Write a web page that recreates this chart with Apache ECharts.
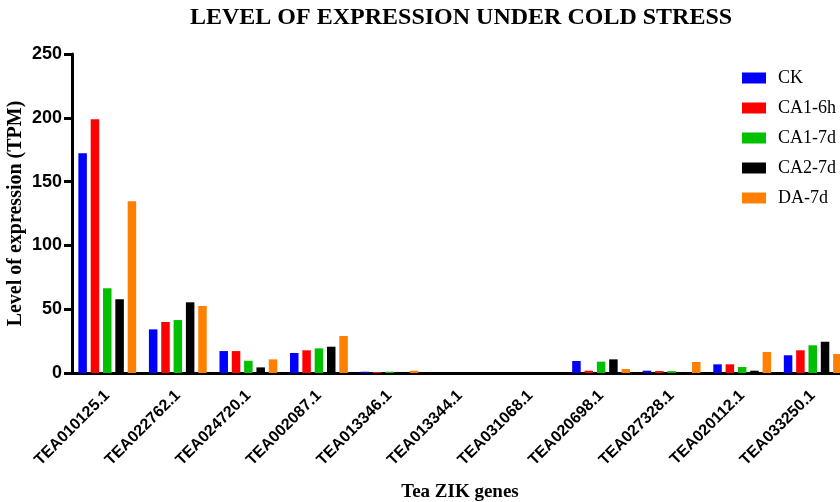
<!DOCTYPE html>
<html>
<head>
<meta charset="utf-8">
<script src="https://cdn.jsdelivr.net/npm/echarts@6/dist/echarts.min.js"></script>
<style>
html,body{margin:0;padding:0;background:#fff;}
#chart{width:840px;height:502px;}
</style>
</head>
<body>
<div id="chart"></div>
<script>
// genes on the x axis
var genes = ['TEA010125.1','TEA022762.1','TEA024720.1','TEA002087.1','TEA013346.1','TEA013344.1','TEA031068.1','TEA020698.1','TEA027328.1','TEA020112.1','TEA033250.1'];
var yTicks = [0, 50, 100, 150, 200, 250];
// expression values (TPM) per treatment
var ck   = [172.2, 34.2, 17.2, 15.7, 1.0, 0, 0, 9.4, 1.8, 6.8, 13.9];
var ca16 = [198.8, 40.0, 17.2, 17.8, 0.8, 0, 0, 1.8, 1.5, 6.8, 17.8];
var ca17 = [66.4, 41.5, 9.6, 19.3, 1.0, 0, 0, 8.9, 1.5, 4.7, 21.7];
var ca27 = [57.8, 55.4, 4.4, 20.6, 0.3, 0, 0, 10.7, 0.8, 1.8, 24.5];
var da7  = [134.6, 52.5, 10.7, 29.0, 1.8, 0, 0, 3.1, 8.6, 16.5, 14.9];

var names = ['CK','CA1-6h','CA1-7d','CA2-7d','DA-7d'];
var colors = ['#0000ff','#ff0000','#00c000','#000000','#ff8000'];
var sets = [ck, ca16, ca17, ca27, da7];

var chart = echarts.init(document.getElementById('chart'));
var serif = '"Liberation Serif","Times New Roman",serif';
var sans = '"Liberation Sans",Arial,sans-serif';

chart.setOption({
	animation:false,
	color: colors,
	title:{
		text:'LEVEL OF EXPRESSION UNDER COLD STRESS',
		left:185,
		top:1,
		textStyle:{fontFamily:serif,fontWeight:'bold',fontSize:24,color:'#000'}
	},
	legend:{
		orient:'vertical',
		left:742,
		top:69,
		padding:0,
		itemWidth:24,
		itemHeight:11,
		itemGap:12,
		icon:'rect',
		textStyle:{fontFamily:serif,fontSize:18,color:'#000',padding:[0,0,0,7]},
		data:names
	},
	grid:{left:72,top:54,bottom:129,right:-8,outerBoundsMode:'none',containLabel:false},
	xAxis:{
		type:'category',
		data:genes,
		name:'Tea ZIK genes',
		nameLocation:'middle',
		nameGap:110,
		nameTextStyle:{fontFamily:serif,fontWeight:'bold',fontSize:19,color:'#000'},
		axisLine:{lineStyle:{color:'#000',width:3}},
		axisTick:{alignWithLabel:true,length:8,lineStyle:{color:'#000',width:3}},
		axisLabel:{rotate:45,interval:0,margin:20,fontFamily:sans,fontWeight:'bold',fontSize:16,color:'#000'}
	},
	yAxis:{
		type:'value',
		min:0,
		max:yTicks[yTicks.length-1],
		interval:50,
		name:'Level of expression (TPM)',
		nameLocation:'middle',
		nameRotate:90,
		nameGap:46,
		nameMoveOverlap:false,
		nameTextStyle:{fontFamily:serif,fontWeight:'bold',fontSize:20,color:'#000'},
		splitLine:{show:false},
		axisLine:{show:true,lineStyle:{color:'#000',width:3}},
		axisTick:{show:true,length:8,lineStyle:{color:'#000',width:3}},
		axisLabel:{margin:10,fontFamily:sans,fontWeight:'bold',fontSize:18,color:'#000'}
	},
	series: names.map(function(n,i){
		return {name:n,type:'bar',data:sets[i],barWidth:8.5,barGap:'45%',itemStyle:{color:colors[i]}};
	})
});
</script>
</body>
</html>
